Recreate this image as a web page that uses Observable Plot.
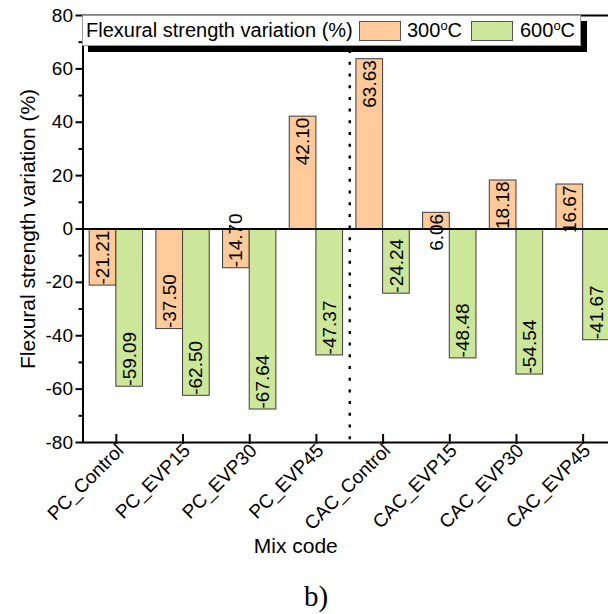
<!DOCTYPE html>
<html>
<head>
<meta charset="utf-8">
<script src="https://cdn.jsdelivr.net/npm/d3@7"></script>
<script src="https://cdn.jsdelivr.net/npm/@observablehq/plot@0.6"></script>
<style>
  html, body { margin: 0; padding: 0; background: #fff; overflow: hidden; }
  #wrap { position: relative; width: 608px; height: 614px; overflow: hidden;
          font-family: "Liberation Sans", Arial, sans-serif; }
  #chart { width: 616px; }
  #chart svg { display: block; max-width: none !important; }
  #legend { position: absolute; left: 82px; top: 15px; width: 497px; height: 29px;
            background: #fff; border: 1px solid #9a9a9a; box-shadow: 6px 6px 0 #000;
            font-size: 20px; color: #000; }
  #legend span { position: absolute; top: 3px; white-space: nowrap; line-height: 22px; }
  #legend i { position: absolute; top: 5px; width: 42px; height: 20px; border: 1px solid #555; box-sizing: border-box; }
  #legend sup { font-size: 13px; vertical-align: 7px; line-height: 0; }
  #caption { position: absolute; left: 0; width: 632px; top: 580px; text-align: center;
             font-family: "Liberation Serif", "Times New Roman", serif; font-size: 29px; }
</style>
</head>
<body>
<div id="wrap">
  <div id="chart"></div>
  <div id="legend"></div>
  <div id="caption">b)</div>
</div>
<script>
// Mix codes and flexural strength variation (%) after heating to 300 °C and 600 °C
const mixes = ["PC_Control", "PC_EVP15", "PC_EVP30", "PC_EVP45",
               "CAC_Control", "CAC_EVP15", "CAC_EVP30", "CAC_EVP45"];
const temps = ["300", "600"];
const v300 = [-21.21, -37.50, -14.70, 42.10, 63.63, 6.06, 18.18, 16.67];
const v600 = [-59.09, -62.50, -67.64, -47.37, -24.24, -48.48, -54.54, -41.67];
const tempColors = ["#FFCA99", "#CCE69A"];
const yTicks = [-80, -60, -40, -20, 0, 20, 40, 60, 80];
const yMinorTicks = [-70, -50, -30, -10, 10, 30, 50, 70];
const groupDivider = [3.5]; // between the PC and CAC mixes
const yLabel = "Flexural strength variation (%)";
const xLabel = "Mix code";

const rows = mixes.flatMap((mix, i) => [
  {mix, i, temp: "300", value: v300[i]},
  {mix, i, temp: "600", value: v600[i]}
]);
const half = 0.4; // width of each bar in mix units
const x1 = d => d.temp === "300" ? d.i - half : d.i;
const x2 = d => d.temp === "300" ? d.i : d.i + half;
const xc = d => d.temp === "300" ? d.i - half / 2 : d.i + half / 2;
const idx = mixes.map((m, i) => i);
const font = "'Liberation Sans', Arial, sans-serif";

const chart = Plot.plot({
  width: 616,
  height: 576,
  marginTop: 15,
  marginLeft: 82.5,
  marginRight: 0,
  marginBottom: 134,
  style: {fontFamily: font, fontSize: "19px", background: "#fff", color: "#000", maxWidth: "none"},
  x: {type: "linear", domain: [-0.5, mixes.length - 0.5], axis: null},
  y: {domain: [-80, 80], axis: null},
  color: {domain: temps, range: tempColors},
  marks: [
    Plot.rect(rows, {x1, x2, y1: 0, y2: "value", fill: "temp", stroke: "#3c3c3c", strokeWidth: 1}),
    Plot.text(rows.filter(d => d.value < 0), {
      x: xc, y: "value", text: d => d.value.toFixed(2), rotate: -90,
      textAnchor: "start", lineAnchor: "middle", dy: -1, fontSize: 19, fill: "#000"
    }),
    Plot.text(rows.filter(d => d.value >= 0), {
      x: xc, y: "value", text: d => d.value.toFixed(2), rotate: -90,
      textAnchor: "end", lineAnchor: "middle", dy: 1, fontSize: 19, fill: "#000"
    }),
    Plot.ruleY([0], {stroke: "#000", strokeWidth: 2}),
    Plot.ruleX(groupDivider, {stroke: "#000", strokeWidth: 2.5, strokeDasharray: "3 8.7"}),
    Plot.frame({stroke: "#000", strokeWidth: 2}),
    // y axis: labelled major ticks and short minor ticks
    Plot.axisY(yTicks, {anchor: "left", tickSize: 7, tickPadding: 3, strokeWidth: 2, fontSize: 19,
                        tickFormat: d => String(d), label: null}),
    Plot.axisY(yMinorTicks, {anchor: "left", tickSize: 4, strokeWidth: 2, tickFormat: () => "", label: null}),
    // x axis: ticks point into the plot, labels slanted
    Plot.axisX(idx, {anchor: "bottom", tickSize: 10, dy: -8, strokeWidth: 2, tickFormat: () => "", label: null}),
    Plot.axisX(idx, {anchor: "bottom", tickSize: 0, tickPadding: 5, tickRotate: -45, dx: 4,
                     tickFormat: i => mixes[i], fontSize: 19, label: null}),
    Plot.text([yLabel], {frameAnchor: "left", rotate: -90, dx: -55, textAnchor: "middle", lineAnchor: "middle",
                         fontSize: 21, fill: "#000"}),
    Plot.text([xLabel], {frameAnchor: "bottom", dx: -54, dy: 104, lineAnchor: "middle", fontSize: 21, fill: "#000"})
  ]
});
document.getElementById("chart").appendChild(chart);

// Legend box drawn over the top of the plot area
const legend = document.getElementById("legend");
const title = document.createElement("span");
title.style.left = "3px";
title.textContent = "Flexural strength variation (%)";
legend.appendChild(title);
const legendX = [[276, 324], [388, 437]];
temps.forEach((t, k) => {
  const sw = document.createElement("i");
  sw.style.left = legendX[k][0] + "px";
  sw.style.background = tempColors[k];
  legend.appendChild(sw);
  const lab = document.createElement("span");
  lab.style.left = legendX[k][1] + "px";
  lab.innerHTML = t + "<sup>o</sup>C";
  legend.appendChild(lab);
});
</script>
</body>
</html>
